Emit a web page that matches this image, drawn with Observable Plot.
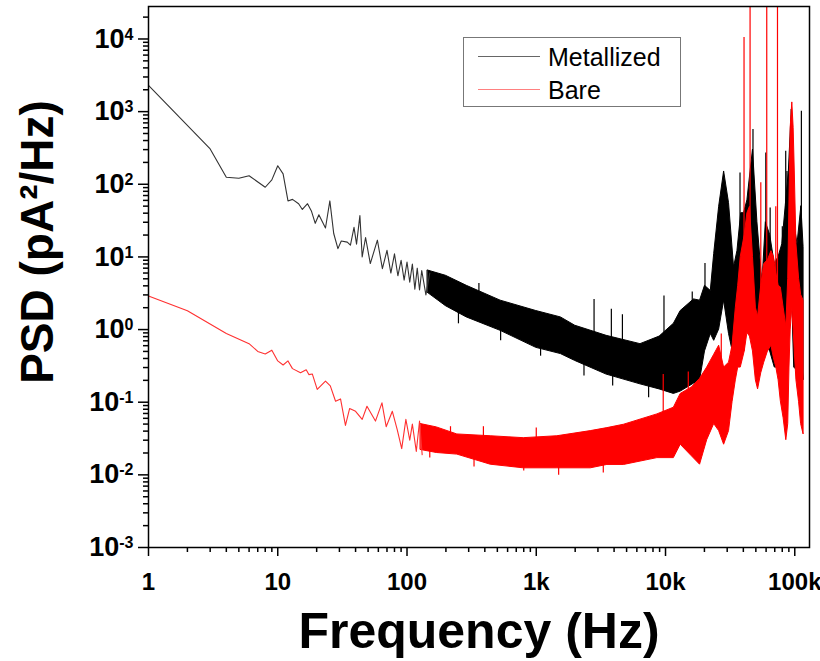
<!DOCTYPE html>
<html><head><meta charset="utf-8">
<script src="https://cdn.jsdelivr.net/npm/d3@7"></script>
<script src="https://cdn.jsdelivr.net/npm/@observablehq/plot@0.6"></script>
<style>
body{margin:0;background:#fff;}
#wrap{position:relative;width:820px;height:661px;font-family:"Liberation Sans",Arial,sans-serif;}
.legend{position:absolute;left:463px;top:37px;width:218px;height:70px;border:1px solid #777;box-sizing:border-box;background:#fff;}
.legend .row{position:absolute;left:0;height:30px;}
.legend .sw{position:absolute;left:14px;width:62px;height:1px;}
.legend .lb{position:absolute;left:84px;font-size:25px;line-height:30px;color:#000;white-space:nowrap;}
</style></head>
<body>
<div id="wrap"></div>
<script>
// ---- Metallized (black) ----
const metalLineF = [1, 3, 4, 5, 6, 8, 9, 10, 11, 12, 13, 14.5, 15.5, 17, 18.2, 19.5, 20.8, 23.4, 25.3, 27.1, 29.2, 31, 34.5, 36.5, 38.9, 40.7, 43.2, 45, 47.8, 52, 59, 64.5, 70, 75, 80, 85, 90, 95, 100, 105, 110, 115, 120, 125, 130, 140, 150];
const metalLineV = [2300, 306, 125, 121, 131, 91, 115, 180, 139, 59, 62, 54, 45, 54, 43, 29, 38, 25, 59, 21, 13, 16.6, 16, 14.5, 25.5, 15, 37, 10, 18.5, 8.1, 17, 6.9, 12.3, 6, 11, 5.5, 9, 4.8, 8.5, 4.5, 8, 3.6, 7, 3.5, 6.5, 3, 6];
const metalBandF  = [145, 200, 290, 530, 1000, 1550, 2000, 3500, 6400, 9000, 11600, 13100, 16600, 18500, 20200, 22400, 23800, 26000, 28400, 31000, 33900, 36000, 38500, 40500, 43000, 47500, 51400, 56200, 59700, 64500, 70000, 75000, 80100, 85100, 90000, 94800, 97000, 99000, 105000, 112500, 117000];
const metalBandLo = [3.2, 2.1, 1.47, 0.96, 0.56, 0.46, 0.37, 0.24, 0.176, 0.15, 0.13, 0.14, 0.18, 0.2, 0.5, 0.87, 0.7, 1.0, 2.5, 0.87, 0.41, 0.4, 0.6, 1.4, 1.5, 3, 1.2, 0.51, 0.6, 0.5, 0.3, 0.3, 0.2, 0.5, 2, 10, 1, 0.3, 0.27, 0.5, 0.2];
const metalBandHi = [6.5, 5.5, 4.0, 2.5, 1.8, 1.47, 1.13, 0.82, 0.63, 0.8, 1.2, 1.8, 2.6, 2.5, 4, 3.4, 11, 49, 150, 55, 7.2, 12, 40, 40, 60, 300, 30, 4.3, 30, 20, 8, 10, 15, 50, 150, 1070, 300, 30, 15, 50, 13.7];
const metalSpikeF    = [360, 2800, 3810, 4640, 9730, 16100, 20200, 37700, 44200, 47500, 59700, 64500, 80100, 85100, 87000, 112500];
const metalSpikeBase = [2, 0.5, 0.4, 0.35, 0.3, 0.3, 0.6, 1, 1.5, 3, 0.6, 0.5, 0.3, 0.5, 0.5, 0.5];
const metalSpikeTop  = [4.3, 2.6, 1.9, 1.6, 2.9, 3.3, 8.1, 143, 84, 567, 270, 47, 26, 284, 150, 1016];
const metalDipF   = [250, 530, 1080, 2340, 3900, 7400];
const metalDipTop = [2.5, 1.2, 0.8, 0.5, 0.4, 0.3];
const metalDipLow = [1.2, 0.7, 0.43, 0.23, 0.167, 0.115];

// ---- Bare (red) ----
const bareLineF = [1, 2, 4, 6, 7, 8, 9, 10, 11, 12, 13, 15, 16.6, 17.4, 18.5, 20.2, 23.4, 25.5, 28, 30.6, 33.4, 36, 40, 45, 49, 57, 64, 69, 77, 84, 91, 98, 105, 110, 118, 125, 131];
const bareLineV = [2.9, 1.82, 0.88, 0.64, 0.5, 0.46, 0.52, 0.37, 0.325, 0.37, 0.29, 0.255, 0.28, 0.24, 0.245, 0.15, 0.195, 0.168, 0.103, 0.111, 0.048, 0.082, 0.075, 0.058, 0.088, 0.055, 0.098, 0.046, 0.075, 0.042, 0.023, 0.058, 0.03, 0.05, 0.021, 0.055, 0.019];
const bareBandF  = [128, 170, 245, 444, 800, 1455, 2640, 3550, 4780, 8650, 11600, 13100, 16000, 18500, 21000, 23800, 26000, 28400, 31000, 33000, 35000, 36500, 38200, 41000, 43000, 45000, 47500, 50000, 52000, 55000, 58000, 62000, 66000, 69000, 72000, 75000, 78000, 82000, 86000, 89000, 91000, 93000, 95700, 98000, 100000, 103000, 108000, 112000, 117000];
const bareBandLo = [0.022, 0.02, 0.019, 0.0138, 0.0123, 0.0123, 0.0123, 0.0137, 0.0137, 0.017, 0.017, 0.026, 0.018, 0.0138, 0.03, 0.05, 0.04, 0.026, 0.04, 0.1, 0.2, 0.3, 0.3, 0.5, 0.9, 0.8, 0.5, 0.2, 0.15, 0.25, 0.35, 0.5, 0.6, 0.4, 0.3, 0.2, 0.103, 0.06, 0.03, 0.05, 0.3, 1, 2, 1, 0.5, 0.2, 0.1, 0.05, 0.036];
const bareBandHi = [0.05, 0.045, 0.036, 0.034, 0.032, 0.034, 0.04, 0.044, 0.049, 0.068, 0.084, 0.13, 0.16, 0.21, 0.3, 0.45, 0.6, 0.3, 0.35, 0.6, 2, 4, 10, 20, 40, 49, 10, 2, 1.5, 4, 8, 9, 12, 10, 6, 4, 3.8, 2, 1.1, 5, 60, 600, 1340, 600, 150, 15, 5, 3, 2.5];
const bareSpikeF    = [217, 390, 1000, 9600, 15000, 27000, 40500, 45100, 54600, 60700, 71300, 73500];
const bareSpikeBase = [0.025, 0.02, 0.02, 0.03, 0.03, 0.05, 0.5, 0.9, 0.3, 0.5, 0.4, 0.3];
const bareSpikeTop  = [0.046, 0.046, 0.044, 0.24, 0.26, 0.87, 10500, 30000, 105, 30000, 49, 30000];
const bareDipF   = [150, 330, 800, 1490, 3300];
const bareDipTop = [0.03, 0.02, 0.018, 0.018, 0.02];
const bareDipLow = [0.017, 0.0128, 0.0113, 0.0099, 0.0106];

// ---- Axes ----
const xTickValues = [1, 10, 100, 1000, 10000, 100000];
const xTickLabels = ["1", "10", "100", "1k", "10k", "100k"];
const yTickValues = [1e-3, 1e-2, 1e-1, 1, 10, 100, 1000, 10000];
const yTickExponents = ["-3", "-2", "-1", "0", "1", "2", "3", "4"];
const seriesNames = ["Metallized", "Bare"];
const seriesColors = ["#000000", "#ff0000"];

const minorX = [], minorY = [];
for (let e = 0; e <= 5; e++) for (let m = 2; m <= 9; m++) { const v = m * 10 ** e; if (v <= 130000) minorX.push(v); }
for (let e = -3; e <= 4; e++) for (let m = 2; m <= 9; m++) { const v = m * 10 ** e; if (v <= 28000) minorY.push(v); }

const idx = a => a.map((_, i) => i);
const font = '"Liberation Sans", Arial, Helvetica, sans-serif';

const plot = Plot.plot({
  width: 820, height: 661,
  marginLeft: 148, marginRight: 11, marginTop: 6, marginBottom: 114,
  style: {fontFamily: font, background: "#fff", overflow: "visible"},
  x: {type: "log", domain: [1, 130000]},
  y: {type: "log", domain: [1e-3, 28000]},
  marks: [
    // metallized
    Plot.areaY(idx(metalBandF), {x: i => metalBandF[i], y1: i => metalBandLo[i], y2: i => metalBandHi[i], fill: seriesColors[0], stroke: seriesColors[0], strokeWidth: 1, clip: true}),
    Plot.ruleX(idx(metalSpikeF), {x: i => metalSpikeF[i], y1: i => metalSpikeBase[i], y2: i => metalSpikeTop[i], stroke: seriesColors[0], strokeWidth: 1.2, clip: true}),
    Plot.ruleX(idx(metalDipF), {x: i => metalDipF[i], y1: i => metalDipLow[i], y2: i => metalDipTop[i], stroke: seriesColors[0], strokeWidth: 1.2, clip: true}),
    Plot.line(idx(metalLineF), {x: i => metalLineF[i], y: i => metalLineV[i], stroke: "#333", strokeWidth: 1.1, clip: true}),
    // bare
    Plot.areaY(idx(bareBandF), {x: i => bareBandF[i], y1: i => bareBandLo[i], y2: i => bareBandHi[i], fill: seriesColors[1], stroke: seriesColors[1], strokeWidth: 1, clip: true}),
    Plot.ruleX(idx(bareSpikeF), {x: i => bareSpikeF[i], y1: i => bareSpikeBase[i], y2: i => bareSpikeTop[i], stroke: seriesColors[1], strokeWidth: 1.2, clip: true}),
    Plot.ruleX(idx(bareDipF), {x: i => bareDipF[i], y1: i => bareDipLow[i], y2: i => bareDipTop[i], stroke: seriesColors[1], strokeWidth: 1.2, clip: true}),
    Plot.line(idx(bareLineF), {x: i => bareLineF[i], y: i => bareLineV[i], stroke: "#ff3030", strokeWidth: 1.1, clip: true}),
    // axes
    Plot.axisX({ticks: minorX, tickSize: 5, strokeWidth: 1.5, tickFormat: () => "", label: null}),
    Plot.axisX({ticks: xTickValues, tickSize: 9, tickPadding: 16, strokeWidth: 1.5, tickFormat: d => xTickLabels[xTickValues.indexOf(d)], fontSize: 24, fontWeight: "bold", label: null}),
    Plot.axisY({ticks: minorY, tickSize: 5, strokeWidth: 1.5, tickFormat: () => "", label: null}),
    Plot.axisY({ticks: yTickValues, tickSize: 10, tickPadding: 5, strokeWidth: 1.5, tickFormat: d => yTickExponents[yTickValues.indexOf(d)], fontSize: 27, fontWeight: "bold", label: null}),
    Plot.frame({stroke: "#000", strokeWidth: 1.5}),
    // axis titles
    Plot.text(["Frequency (Hz)"], {frameAnchor: "bottom", dy: 84, lineAnchor: "middle", textAnchor: "middle", text: d => d, fontSize: 50, fontWeight: "bold"}),
    Plot.text(["PSD (pA\u00B2/Hz)"], {frameAnchor: "left", dx: -110, dy: -35, rotate: -90, lineAnchor: "middle", textAnchor: "middle", text: d => d, fontSize: 46, fontWeight: "bold"})
  ]
});

// superscript exponents on y tick labels
plot.querySelectorAll('g[aria-label="y-axis tick label"] text').forEach(t => {
  const e = t.textContent;
  if (!e) return;
  t.textContent = "10";
  const ts = document.createElementNS("http://www.w3.org/2000/svg", "tspan");
  ts.setAttribute("dy", "-0.5em");
  ts.setAttribute("font-size", "16");
  ts.textContent = e;
  t.appendChild(ts);
});

const wrap = document.getElementById("wrap");
wrap.appendChild(plot);

// legend
const lg = document.createElement("div");
lg.className = "legend";
const rowTops = [4, 37];
const swColors = ["#666", "#ff8080"];
seriesNames.forEach((n, i) => {
  const r = document.createElement("div");
  r.className = "row";
  r.style.top = rowTops[i] + "px";
  r.innerHTML = `<div class="sw" style="top:14px;background:${swColors[i]}"></div><div class="lb">${n}</div>`;
  lg.appendChild(r);
});
wrap.appendChild(lg);
</script>
</body></html>
